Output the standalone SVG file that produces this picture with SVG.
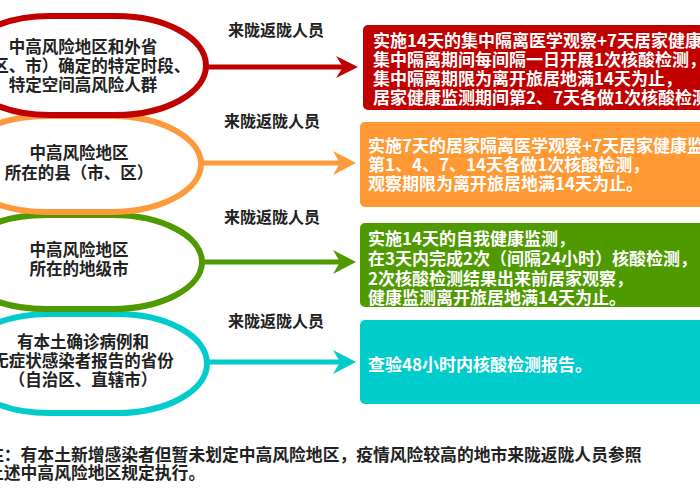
<svg xmlns="http://www.w3.org/2000/svg" width="700" height="500" viewBox="0 0 700 500">
<style>
text{font-family:"Noto Sans CJK SC","Noto Sans",sans-serif;font-weight:bold}
.nt{font-size:16.5px;fill:#222;text-anchor:middle}
.lb{font-size:16px;fill:#222;text-anchor:middle}
.bt{font-size:17px;fill:#fff}
.ft{font-size:16.8px;fill:#222}
.sh{fill:#fff;stroke-width:6}
.cn{stroke-width:5;fill:none}
</style>
<rect width="700" height="500" fill="#fff"/>
<g id="node-cyan">
<rect class="sh" x="-41" y="314" width="248" height="99" rx="90" ry="49.5" stroke="#00CCCC"/>
<text class="nt" x="83" y="348">有本土确诊病例和</text>
<text class="nt" x="83" y="367">无症状感染者报告的省份</text>
<text class="nt" x="83" y="386">（自治区、直辖市）</text>
</g>
<g id="node-green">
<rect class="sh" x="-44" y="215" width="246" height="94" rx="90" ry="47" stroke="#4E9A00"/>
<text class="nt" x="79" y="256">中高风险地区</text>
<text class="nt" x="79" y="275">所在的地级市</text>
</g>
<g id="node-orange">
<rect class="sh" x="-43" y="116" width="244" height="96" rx="90" ry="48" stroke="#FF9A3C"/>
<text class="nt" x="79" y="159">中高风险地区</text>
<text class="nt" x="79" y="179">所在的县（市、区）</text>
</g>
<g id="node-red">
<rect class="sh" x="-40" y="16" width="246" height="99" rx="90" ry="49.5" stroke="#C00000"/>
<text class="nt" x="83" y="53">中高风险地区和外省</text>
<text class="nt" x="83" y="72">（区、市）确定的特定时段、</text>
<text class="nt" x="83" y="91">特定空间高风险人群</text>
</g>
<g id="connectors">
<path class="cn" stroke="#C00000" d="M206,67H345"/>
<path fill="#C00000" d="M336,56L358,67L336,78L343,67Z"/>
<path class="cn" stroke="#FF9A3C" d="M201,163H343"/>
<path fill="#FF9A3C" d="M333,151L356,163L333,175L340,163Z"/>
<path class="cn" stroke="#4E9A00" d="M202,262H343"/>
<path fill="#4E9A00" d="M333,250L356,262L333,274L340,262Z"/>
<path class="cn" stroke="#00CCCC" d="M207,362H343"/>
<path fill="#00CCCC" d="M333,350L356,362L333,374L340,362Z"/>
<text class="lb" x="276" y="36">来陇返陇人员</text>
<text class="lb" x="272" y="127">来陇返陇人员</text>
<text class="lb" x="272" y="223">来陇返陇人员</text>
<text class="lb" x="276" y="327">来陇返陇人员</text>
</g>
<g id="box-red">
<rect x="363" y="25" width="350" height="85" rx="5" fill="#C00000"/>
<text class="bt" x="373" y="46.5">实施14天的集中隔离医学观察+7天居家健康监</text>
<text class="bt" x="373" y="65.5">集中隔离期间每间隔一日开展1次核酸检测，</text>
<text class="bt" x="373" y="84.5">集中隔离期限为离开旅居地满14天为止，</text>
<text class="bt" x="373" y="103.5">居家健康监测期间第2、7天各做1次核酸检测</text>
</g>
<g id="box-orange">
<rect x="360" y="122" width="350" height="85" rx="5" fill="#FF9933"/>
<text class="bt" x="368" y="151.5">实施7天的居家隔离医学观察+7天居家健康监</text>
<text class="bt" x="368" y="170.5">第1、4、7、14天各做1次核酸检测，</text>
<text class="bt" x="368" y="189.5">观察期限为离开旅居地满14天为止。</text>
</g>
<g id="box-green">
<rect x="360" y="223" width="350" height="84" rx="5" fill="#4E9A00"/>
<text class="bt" x="368" y="244.5">实施14天的自我健康监测，</text>
<text class="bt" x="368" y="264.5">在3天内完成2次（间隔24小时）核酸检测，</text>
<text class="bt" x="368" y="284.5">2次核酸检测结果出来前居家观察，</text>
<text class="bt" x="368" y="304">健康监测离开旅居地满14天为止。</text>
</g>
<g id="box-cyan">
<rect x="360" y="320" width="350" height="84" rx="5" fill="#00CCCC"/>
<text class="bt" x="368" y="371">查验48小时内核酸检测报告。</text>
</g>
<g id="note">
<text class="ft" x="-13" y="461">注：有本土新增感染者但暂未划定中高风险地区，疫情风险较高的地市来陇返陇人员参照</text>
<text class="ft" x="-13" y="479">上述中高风险地区规定执行。</text>
</g>
</svg>
